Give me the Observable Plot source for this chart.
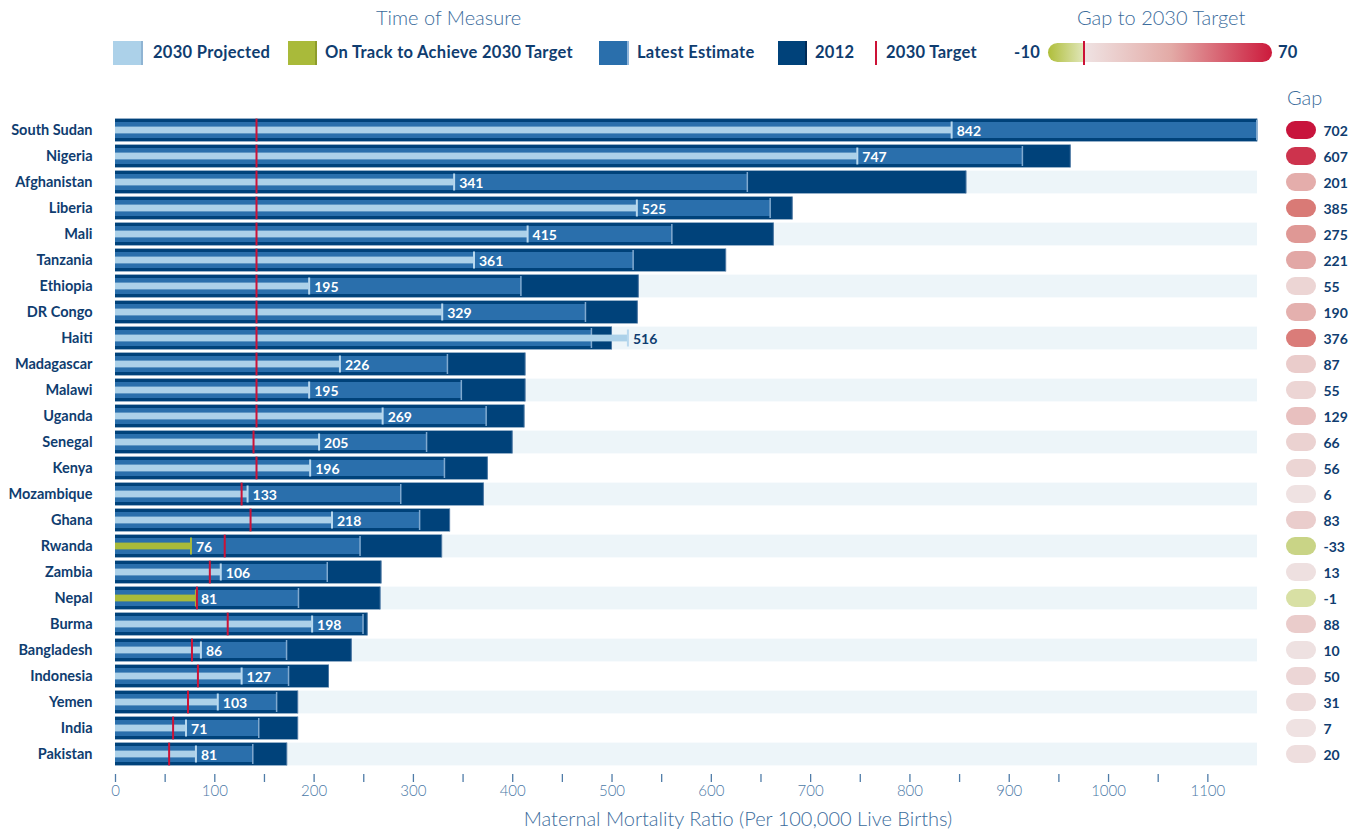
<!DOCTYPE html>
<html>
<head>
<meta charset="utf-8">
<script src="https://cdn.jsdelivr.net/npm/d3@7"></script>
<script src="https://cdn.jsdelivr.net/npm/@observablehq/plot@0.6"></script>
<style>
  html, body { margin: 0; padding: 0; background: #fff; }
  #page { position: relative; width: 1359px; height: 833px; overflow: hidden; font-family: Lato, "Open Sans", sans-serif; color: #0f3d70; }
  .abs { position: absolute; white-space: nowrap; }
  .title { font-weight: 300; font-size: 20px; color: #3b6c9c; }
  .leg { font-weight: 700; font-size: 16.5px; letter-spacing: 0.3px; color: #0f3d70; line-height: 24px; }
  .sw { position: absolute; top: 41px; height: 24px; box-sizing: border-box; }
  #main svg g[aria-label="x-axis tick label"] text { font-weight: 300; }
</style>
</head>
<body>
<div id="page">
  <div class="abs title" style="left:376px; top:5px;">Time of Measure</div>
  <div class="abs title" style="left:1077px; top:5px;">Gap to 2030 Target</div>

  <div class="sw" style="left:113px; width:30px; background:#acd1e9; border-right:2px solid #8fb4d3;"></div>
  <div class="abs leg" style="left:153px; top:40px;">2030 Projected</div>
  <div class="sw" style="left:288px; width:29px; background:#a9ba3a; border-right:2px solid #8d9c2a;"></div>
  <div class="abs leg" style="left:325px; top:40px;">On Track to Achieve 2030 Target</div>
  <div class="sw" style="left:599px; width:30px; background:#2a6fac; border-right:2px solid #8fb5da;"></div>
  <div class="abs leg" style="left:637px; top:40px;">Latest Estimate</div>
  <div class="sw" style="left:778px; width:29px; background:#00427a; border-right:2px solid #002a55;"></div>
  <div class="abs leg" style="left:815px; top:40px;">2012</div>
  <div class="sw" style="left:875px; width:2px; background:#cc1236;"></div>
  <div class="abs leg" style="left:886px; top:40px;">2030 Target</div>

  <div class="abs leg" style="left:1014px; top:40px;">-10</div>
  <div class="abs" style="left:1048px; top:43px; width:224px; height:19px; border-radius:10px; background:linear-gradient(to right, #afbe3a 0%, #dfe5b6 15.5%, #efe3e3 16%, #e3aaa6 55%, #cc1a3c 100%);"></div>
  <div class="abs" style="left:1083px; top:41px; width:2px; height:24px; background:#cc1236;"></div>
  <div class="abs leg" style="left:1278px; top:40px;">70</div>

  <div class="abs title" style="left:1287px; top:85px;">Gap</div>

  <div id="main" class="abs" style="left:0; top:70px;"></div>
  <div id="gapcol" class="abs" style="left:1265px; top:70px;"></div>

  <div class="abs title" style="left:738px; top:806px; transform:translateX(-50%);">Maternal Mortality Ratio (Per 100,000 Live Births)</div>
</div>
<script>
const countries = ["South Sudan","Nigeria","Afghanistan","Liberia","Mali","Tanzania","Ethiopia","DR Congo","Haiti","Madagascar","Malawi","Uganda","Senegal","Kenya","Mozambique","Ghana","Rwanda","Zambia","Nepal","Burma","Bangladesh","Indonesia","Yemen","India","Pakistan"];
const mmr2012 = [1150,962,857,682,663,615,527,526,500,413,413,412,400,375,371,337,329,268,267,254,238,215,184,184,173];
const latestEstimate = [1150,914,637,660,561,522,409,474,480,335,349,374,314,332,288,307,247,214,185,250,173,175,163,145,139];
const projected2030 = [842,747,341,525,415,361,195,329,516,226,195,269,205,196,133,218,76,106,81,198,86,127,103,71,81];
const target2030 = [142,142,142,142,142,142,142,142,142,142,142,142,139,142,127,136,110,95,82,113,77,83,73,58,54];
const gapValues = [702,607,201,385,275,221,55,190,376,87,55,129,66,56,6,83,-33,13,-1,88,10,50,31,7,20];
const xMax = 1150;
const xTicks = [0,50,100,150,200,250,300,350,400,450,500,550,600,650,700,750,800,850,900,950,1000,1050,1100];

const navy = "#0f3d70";
const rows = countries.map((c, i) => ({
  country: c, idx: i,
  v2012: mmr2012[i], latest: latestEstimate[i], proj: projected2030[i],
  target: target2030[i], gap: gapValues[i]
}));
const banded = rows.filter(d => d.idx % 2 === 0);

const H = 734, MT = 45, MB = 30;

const main = Plot.plot({
  width: 1265, height: H,
  marginTop: MT, marginBottom: MB, marginLeft: 115, marginRight: 8,
  style: { fontFamily: "Lato, 'Open Sans', sans-serif", color: navy, background: "transparent" },
  x: { domain: [0, xMax], label: null },
  y: { domain: countries, padding: 0, insetBottom: 5, label: null },
  marks: [
    Plot.barX(banded, { x1: 0, x2: xMax, y: "country", fill: "#edf5f9", insetTop: 1.6, insetBottom: 1.6 }),
    Plot.barX(rows, { x: "v2012", y: "country", fill: "#00427a", insetTop: 1.6, insetBottom: 1.6 }),
    Plot.tickX(rows, { x: "v2012", y: "country", stroke: "#4d78a3", strokeWidth: 1, insetTop: 1.6, insetBottom: 1.6, dx: -0.5 }),
    Plot.barX(rows, { x: "latest", y: "country", fill: "#2a6fac", insetTop: 5, insetBottom: 5 }),
    Plot.tickX(rows, { x: "latest", y: "country", stroke: "#80a9cf", strokeWidth: 1.5, insetTop: 3, insetBottom: 3, dx: -0.75 }),
    Plot.barX(rows, { x: "proj", y: "country", fill: d => d.gap < 0 ? "#a9ba3a" : "#acd1e9", insetTop: 9.6, insetBottom: 9.6 }),
    Plot.tickX(rows, { x: "proj", y: "country", stroke: d => d.gap < 0 ? "#a9ba3a" : "#b8d8ee", strokeWidth: 2, insetTop: 4.5, insetBottom: 4.5 }),
    Plot.tickX(rows, { x: "target", y: "country", stroke: "#cc1236", strokeWidth: 2, insetTop: 1.6, insetBottom: 1.6 }),
    Plot.text(rows, { x: "proj", y: "country", text: d => String(d.proj), dx: 5, dy: 1, textAnchor: "start",
      fill: d => d.proj > d.v2012 ? navy : "#ffffff", fontWeight: 700, fontSize: 14 }),
    Plot.axisX({ ticks: xTicks, tickFormat: d => d % 100 === 0 ? String(d) : "", tickSize: 8, tickPadding: 3,
      stroke: "#4f7ca8", strokeWidth: 1.3, fill: "#4a78a6", fontSize: 15, label: null }),
    Plot.axisY({ tickSize: 0, tickPadding: 23, fontWeight: 700, fontSize: 14.5, fill: navy, label: null })
  ]
});
document.getElementById("main").appendChild(main);

const gapPlot = Plot.plot({
  width: 94, height: H,
  marginTop: MT, marginBottom: MB, marginLeft: 21, marginRight: 43,
  style: { fontFamily: "Lato, 'Open Sans', sans-serif", color: navy, background: "transparent" },
  x: { domain: [0, 1], axis: null },
  y: { domain: countries, padding: 0, insetBottom: 5, axis: null },
  color: { type: "linear", domain: [-33, -1, 0, 385, 702],
           range: ["#c9d486", "#d8e0a4", "#efe4e4", "#d97a76", "#c8143c"] },
  marks: [
    Plot.barX(rows, { x1: 0, x2: 1, y: "country", fill: "gap", rx: 9, insetTop: 4, insetBottom: 4 }),
    Plot.text(rows, { x: 1, y: "country", text: d => String(d.gap), dx: 7, dy: 1, textAnchor: "start",
      fill: navy, fontWeight: 700, fontSize: 14 })
  ]
});
document.getElementById("gapcol").appendChild(gapPlot);
</script>
</body>
</html>
